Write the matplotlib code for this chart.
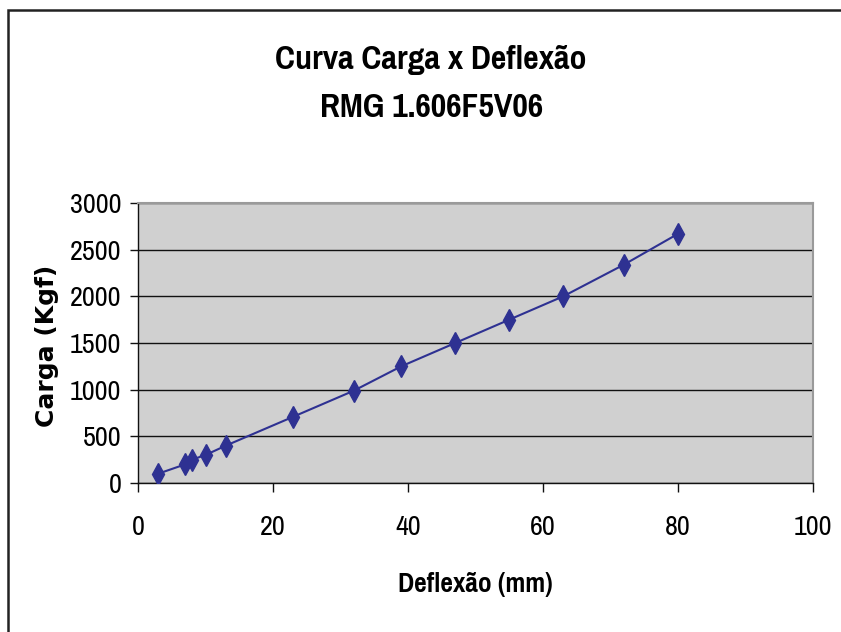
import matplotlib
matplotlib.use('Agg')
import matplotlib.pyplot as plt
from matplotlib.patches import Rectangle
from matplotlib import font_manager

deflexao = [3, 7, 8, 10, 13, 23, 32, 39, 47, 55, 63, 72, 80]
carga = [100, 200, 250, 300, 400, 710, 990, 1250, 1500, 1750, 2000, 2340, 2670]
x_ticks = [0, 20, 40, 60, 80, 100]
y_ticks = [0, 500, 1000, 1500, 2000, 2500, 3000]

# narrow Arial-like face, first one installed
names = {f.name for f in font_manager.fontManager.ttflist}
narrow = next((n for n in ['Liberation Sans Narrow', 'Pragati Narrow', 'Roboto Condensed',
                           'PT Sans Narrow', 'Archivo Narrow'] if n in names), 'Liberation Sans')
fam = [narrow, 'DejaVu Sans']

W, H = 841, 632
fig = plt.figure(figsize=(W / 100, H / 100), dpi=100)
ax = fig.add_axes([138 / W, 1 - 483 / H, (813 - 138) / W, (483 - 203) / H])
ax.set_facecolor('#d0d0d0')

ax.plot(deflexao, carga, color='#2e3192', lw=1.5, marker='d', ms=11,
        mfc='#2e3192', mec='#2e3192', zorder=3)

ax.set_xlim(0, 100)
ax.set_ylim(0, 3000)
ax.set_xticks(x_ticks)
ax.set_yticks(y_ticks)
ax.yaxis.grid(True, color='#111111', lw=1.0)
ax.set_axisbelow(True)

for s in ['top', 'right']:
    ax.spines[s].set_color('#9a9a9a')
    ax.spines[s].set_linewidth(1.5)
for s in ['left', 'bottom']:
    ax.spines[s].set_color('#111111')
    ax.spines[s].set_linewidth(1.0)

ax.tick_params(axis='y', length=6, width=1, pad=6, color='#111111')
ax.tick_params(axis='x', length=6.5, width=1, pad=16.5, color='#111111')
for lab in ax.get_xticklabels() + ax.get_yticklabels():
    lab.set_fontfamily(fam)
    lab.set_fontsize(22)

fig.text(431 / W, 1 - 69 / H, 'Curva Carga x Deflexão', ha='center', va='baseline',
         fontsize=26.5, fontweight='bold', family=fam)
fig.text(432 / W, 1 - 117 / H, 'RMG 1.606F5V06', ha='center', va='baseline',
         fontsize=26.5, fontweight='bold', family=fam)
fig.text(475 / W, 1 - 592 / H, 'Deflexão (mm)', ha='center', va='baseline',
         fontsize=21.5, fontweight='bold', family=fam)
fig.text(47 / W, 1 - 346 / H, 'Carga (Kgf)', ha='center', va='center', rotation=90,
         fontsize=18, fontweight='bold', family=['DejaVu Sans'])

fig.add_artist(Rectangle((8 / W, -0.1), 1.0, 1.1 - 10 / H, transform=fig.transFigure,
                         fill=False, edgecolor='#222222', lw=1.8))

fig.savefig('out.png', dpi=100)
